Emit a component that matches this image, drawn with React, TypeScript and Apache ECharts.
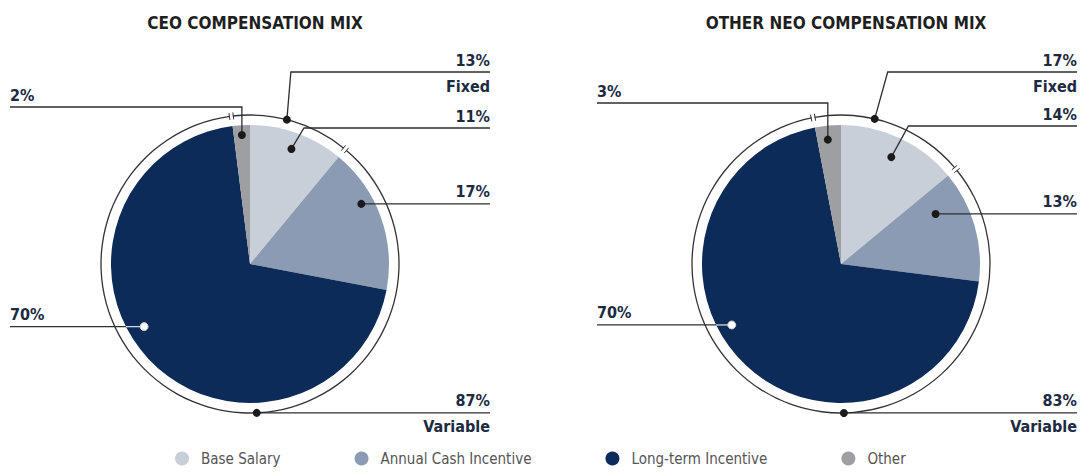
import React, { useEffect, useRef } from 'react';
import * as echarts from 'echarts';

// ---------- data ----------
const categories = ['Base Salary', 'Annual Cash Incentive', 'Long-term Incentive', 'Other'];
const ceoValues = [11, 17, 70, 2];
const neoValues = [14, 13, 70, 3];
const groupNames = ['Fixed', 'Variable'];
const ceoGroupValues = [13, 87];
const neoGroupValues = [17, 83];
const titles = ['CEO COMPENSATION MIX', 'OTHER NEO COMPENSATION MIX'];

// ---------- style ----------
const colors = ['#c8cfd9', '#8a9bb3', '#0c2b58', '#9d9fa3'];
const FONT = "'Liberation Sans Narrow', 'DejaVu Sans Condensed', 'Arial Narrow', 'Roboto', sans-serif";
const TEXT = '#1c2a42';
const LINE = '#2e2e2e';

type Layout = any;
const layouts: Layout[] = [
  {
    cx: 250, cy: 264, r: 139, ringR: 149, xl: 10, xr: 490,
    base: { t: 0.5, rf: 0.88, elbowY: 128, slope: 0.6 },
    annual: { t: 0.36, rf: 0.91 },
    lti: { t: 0.55, rf: 0.885 },
    other: { t: 0.5, rf: 0.93, lineY: 107 },
    fixed: { t: 0.46, lineY: 72, elbowDx: 4 },
    variable: { t: 0.44 },
  },
  {
    cx: 841, cy: 264, r: 139, ringR: 149, xl: 597, xr: 1077,
    base: { t: 0.5, rf: 0.85, elbowY: 126, slope: 0.55 },
    annual: { t: 0.25, rf: 0.77 },
    lti: { t: 0.57, rf: 0.9 },
    other: { t: 0.44, rf: 0.9, lineY: 103 },
    fixed: { t: 0.39, lineY: 72, elbowDx: 13 },
    variable: { t: 0.43 },
  },
];

function polar(L: Layout, thetaDeg: number, rad: number) {
  const a = (thetaDeg * Math.PI) / 180;
  return [L.cx + rad * Math.sin(a), L.cy - rad * Math.cos(a)];
}

function textEl(text: string, x: number, y: number, align: string, extra: any = {}) {
  return {
    type: 'text',
    z: 110,
    style: {
      text, x, y,
      fill: TEXT,
      font: `bold 16px ${FONT}`,
      textAlign: align, align,
      textVerticalAlign: 'middle', verticalAlign: 'middle',
      ...extra,
    },
  };
}
function lineEl(points: number[][], stroke = LINE, width = 1.3) {
  return { type: 'polyline', z: 100, shape: { points }, style: { stroke, lineWidth: width, fill: 'none' } };
}
function dotEl(p: number[], fill = '#1a1a1a', stroke = 'none') {
  return { type: 'circle', z: 105, shape: { cx: p[0], cy: p[1], r: 4 }, style: { fill, stroke, lineWidth: 1 } };
}

function buildPie(idx: number, values: number[], groupValues: number[]) {
  const L = layouts[idx];
  const total = values.reduce((a, b) => a + b, 0);
  const deg = (v: number) => (v / total) * 360;
  const starts: number[] = [];
  let acc = 0;
  values.forEach((v) => { starts.push(acc); acc += deg(v); });
  const at = (i: number, t: number) => starts[i] + t * deg(values[i]);

  const gTotal = groupValues.reduce((a, b) => a + b, 0);
  const gStart = -deg(values[3]);
  const gDeg = (v: number) => (v / gTotal) * 360;
  const fixedStart = gStart;
  const varStart = gStart + gDeg(groupValues[0]);

  const series: any[] = [
    {
      type: 'pie',
      silent: true,
      center: [L.cx, L.cy],
      radius: [0, L.r],
      startAngle: 90,
      clockwise: true,
      label: { show: false },
      labelLine: { show: false },
      data: categories.map((name, i) => ({ name, value: values[i], itemStyle: { color: colors[i] } })),
    },
    {
      type: 'pie',
      silent: true,
      center: [L.cx, L.cy],
      radius: [L.ringR - 0.65, L.ringR + 0.65],
      startAngle: 90 + deg(values[3]),
      clockwise: true,
      padAngle: 1.2,
      label: { show: false },
      labelLine: { show: false },
      itemStyle: { color: '#333333' },
      data: groupNames.map((name, i) => ({ name, value: groupValues[i] })),
    },
  ];

  const g: any[] = [];
  [fixedStart, varStart].forEach((th) => {
    [-0.75, 0.75].forEach((o) => {
      g.push(lineEl([polar(L, th + o, L.ringR - 3.5), polar(L, th + o, L.ringR + 3.5)], '#333333', 1));
    });
  });

  // Base salary
  const bd = polar(L, at(0, L.base.t), L.r * L.base.rf);
  const bElbow = [bd[0] + L.base.slope * (bd[1] - L.base.elbowY), L.base.elbowY];
  g.push(lineEl([bd, bElbow, [L.xr, L.base.elbowY]]));
  g.push(dotEl(bd));
  g.push(textEl(`${values[0]}%`, L.xr, L.base.elbowY - 12, 'right'));

  // Annual cash
  const ad = polar(L, at(1, L.annual.t), L.r * L.annual.rf);
  g.push(lineEl([ad, [L.xr, ad[1]]]));
  g.push(dotEl(ad));
  g.push(textEl(`${values[1]}%`, L.xr, ad[1] - 12, 'right'));

  // Long-term incentive
  const ld = polar(L, at(2, L.lti.t), L.r * L.lti.rf);
  const edgeX = L.cx - Math.sqrt(Math.max(0, L.r * L.r - (ld[1] - L.cy) ** 2));
  g.push(lineEl([[L.xl, ld[1]], [edgeX, ld[1]]]));
  g.push(lineEl([[edgeX, ld[1]], ld], '#d5d9e0'));
  g.push(dotEl(ld, '#ffffff', '#c9ced6'));
  g.push(textEl(`${values[2]}%`, L.xl, ld[1] - 12, 'left'));

  // Other
  const od = polar(L, at(3, L.other.t), L.r * L.other.rf);
  g.push(lineEl([od, [od[0], L.other.lineY], [L.xl, L.other.lineY]]));
  g.push(dotEl(od));
  g.push(textEl(`${values[3]}%`, L.xl, L.other.lineY - 12, 'left'));

  // Fixed group
  const fd = polar(L, fixedStart + L.fixed.t * gDeg(groupValues[0]), L.ringR);
  g.push(lineEl([fd, [fd[0] + L.fixed.elbowDx, L.fixed.lineY], [L.xr, L.fixed.lineY]]));
  g.push(dotEl(fd));
  g.push(textEl(`${groupValues[0]}%`, L.xr, L.fixed.lineY - 12, 'right'));
  g.push(textEl(groupNames[0], L.xr, L.fixed.lineY + 14, 'right'));

  // Variable group
  const vd = polar(L, varStart + L.variable.t * gDeg(groupValues[1]), L.ringR);
  g.push(lineEl([vd, [L.xr, vd[1]]]));
  g.push(dotEl(vd));
  g.push(textEl(`${groupValues[1]}%`, L.xr, vd[1] - 12, 'right'));
  g.push(textEl(groupNames[1], L.xr, vd[1] + 14, 'right'));

  return { series, graphic: g };
}

export default function App() {
  const ref = useRef<HTMLDivElement>(null);
  useEffect(() => {
    if (!ref.current) return;
    const chart = echarts.init(ref.current, undefined, { renderer: 'svg' });
    const a = buildPie(0, ceoValues, ceoGroupValues);
    const b = buildPie(1, neoValues, neoGroupValues);
    chart.setOption({
      animation: false,
      backgroundColor: '#ffffff',
      title: titles.map((t, i) => ({
        text: t,
        left: layouts[i].cx,
        top: 9,
        textAlign: 'center',
        textStyle: { fontFamily: FONT, fontSize: 17, fontWeight: 'bold', color: '#1f1f1f' },
      })),
      legend: {
        data: categories,
        top: 451,
        left: 175,
        padding: 0,
        icon: 'circle',
        itemWidth: 14,
        itemHeight: 14,
        itemGap: 74,
        selectedMode: false,
        textStyle: { fontFamily: FONT, fontSize: 15, color: '#555', padding: [0, 0, 0, 7] },
      },
      series: [...a.series, ...b.series],
      graphic: [...a.graphic, ...b.graphic],
    });
    return () => chart.dispose();
  }, []);
  return <div ref={ref} style={{ position: 'absolute', left: 0, top: 0, width: 1082, height: 473 }} />;
}
